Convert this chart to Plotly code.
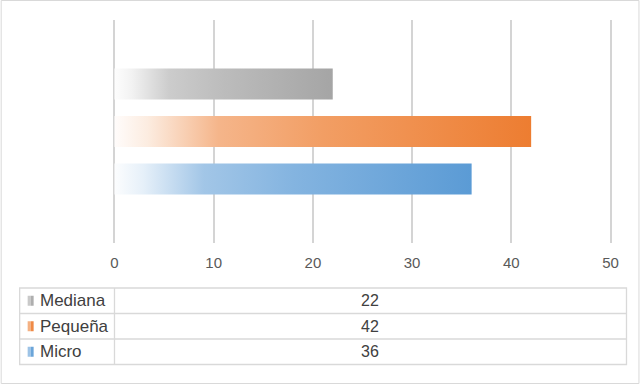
import plotly.graph_objects as go

# ---- data ----
categories = ["Micro", "Pequeña", "Mediana"]          # bottom to top
values = [36, 42, 22]
base_colors = [(91, 155, 213), (237, 125, 49), (165, 165, 165)]
table_order = ["Mediana", "Pequeña", "Micro"]          # table rows top to bottom
x_ticks = [0, 10, 20, 30, 40, 50]

W, H = 640, 384
L, R, T, B = 114, 611, 20, 243   # plot area in px
pad = 0.25
xr = [0 - pad, 50 + pad]
ppu = (R - L) / 50.0
Lm = L - pad * ppu
Rm = R + pad * ppu


def px_x(px):
    return (px - Lm) / (Rm - Lm)


def px_y(py):
    return (B - py) / (B - T)


def mix(c, f):
    return "rgb(%d,%d,%d)" % tuple(round(255 - (255 - v) * f) for v in c)


half = 0.326
fig = go.Figure()
for i, (cat, v, c) in enumerate(zip(categories, values, base_colors)):
    cs = [[0, mix(c, 0.02)], [0.08, mix(c, 0.15)], [0.25, mix(c, 0.57)],
          [0.5, mix(c, 0.75)], [1, mix(c, 1.0)]]
    fig.add_trace(go.Scatter(
        x=[0, v, v, 0, 0],
        y=[i - half, i - half, i + half, i + half, i - half],
        mode="lines", line=dict(width=0), fill="toself",
        fillgradient=dict(type="horizontal", colorscale=cs, start=0, stop=v),
        name=cat, hoverinfo="name+x", showlegend=False,
    ))

fig.update_layout(
    width=W, height=H,
    margin=dict(l=Lm, r=W - Rm, t=T, b=H - B),
    paper_bgcolor="white", plot_bgcolor="white",
    font=dict(family="Liberation Sans, Arial, sans-serif", color="#595959", size=14),
    xaxis=dict(range=xr, tickvals=x_ticks, showgrid=True, gridcolor="#d4d4d4",
               gridwidth=1.5, zeroline=False, showline=False,
               ticks="outside", ticklen=6, tickcolor="rgba(0,0,0,0)",
               tickfont=dict(size=15, color="#595959"), fixedrange=True),
    yaxis=dict(range=[-1.348, 3.347], showticklabels=False, showgrid=False,
               zeroline=False, showline=False, fixedrange=True),
    showlegend=False,
)

shapes = []
line_col = "#d9d9d9"
# outer border
shapes.append(dict(type="rect", xref="paper", yref="paper",
                   x0=px_x(0.5), x1=px_x(639.5), y0=px_y(383.5), y1=px_y(0.5),
                   line=dict(color=line_col, width=1), fillcolor="rgba(0,0,0,0)", layer="below"))
# table
tx0, tx1, tcol = 19, 627, 114
row_tops = [288, 313.5, 339, 364.5]
shapes.append(dict(type="rect", xref="paper", yref="paper",
                   x0=px_x(tx0), x1=px_x(tx1), y0=px_y(row_tops[-1]), y1=px_y(row_tops[0]),
                   line=dict(color=line_col, width=1.3), fillcolor="rgba(0,0,0,0)"))
for yy in row_tops[1:-1]:
    shapes.append(dict(type="line", xref="paper", yref="paper",
                       x0=px_x(tx0), x1=px_x(tx1), y0=px_y(yy), y1=px_y(yy),
                       line=dict(color=line_col, width=1.3)))
shapes.append(dict(type="line", xref="paper", yref="paper",
                   x0=px_x(tcol), x1=px_x(tcol), y0=px_y(row_tops[-1]), y1=px_y(row_tops[0]),
                   line=dict(color=line_col, width=1.3)))

annotations = []
for r, name in enumerate(table_order):
    idx = categories.index(name)
    c = base_colors[idx]
    yc = (row_tops[r] + row_tops[r + 1]) / 2
    shapes.append(dict(type="rect", xref="paper", yref="paper",
                       x0=px_x(27), x1=px_x(30), y0=px_y(yc + 5), y1=px_y(yc - 5),
                       line=dict(width=0), fillcolor=mix(c, 0.6)))
    shapes.append(dict(type="rect", xref="paper", yref="paper",
                       x0=px_x(30), x1=px_x(33), y0=px_y(yc + 5), y1=px_y(yc - 5),
                       line=dict(width=0), fillcolor=mix(c, 0.9)))
    annotations.append(dict(xref="paper", yref="paper", x=px_x(37), y=px_y(yc),
                            xanchor="left", yanchor="middle", text=name, showarrow=False,
                            font=dict(size=17, color="#404040")))
    annotations.append(dict(xref="paper", yref="paper", x=px_x((tcol + tx1) / 2), y=px_y(yc),
                            xanchor="center", yanchor="middle", text=str(values[idx]),
                            showarrow=False, font=dict(size=16, color="#404040")))

fig.update_layout(shapes=shapes, annotations=annotations)
fig.write_html("out.html", config={"displayModeBar": False},
               post_script="document.body.style.margin='0';")
